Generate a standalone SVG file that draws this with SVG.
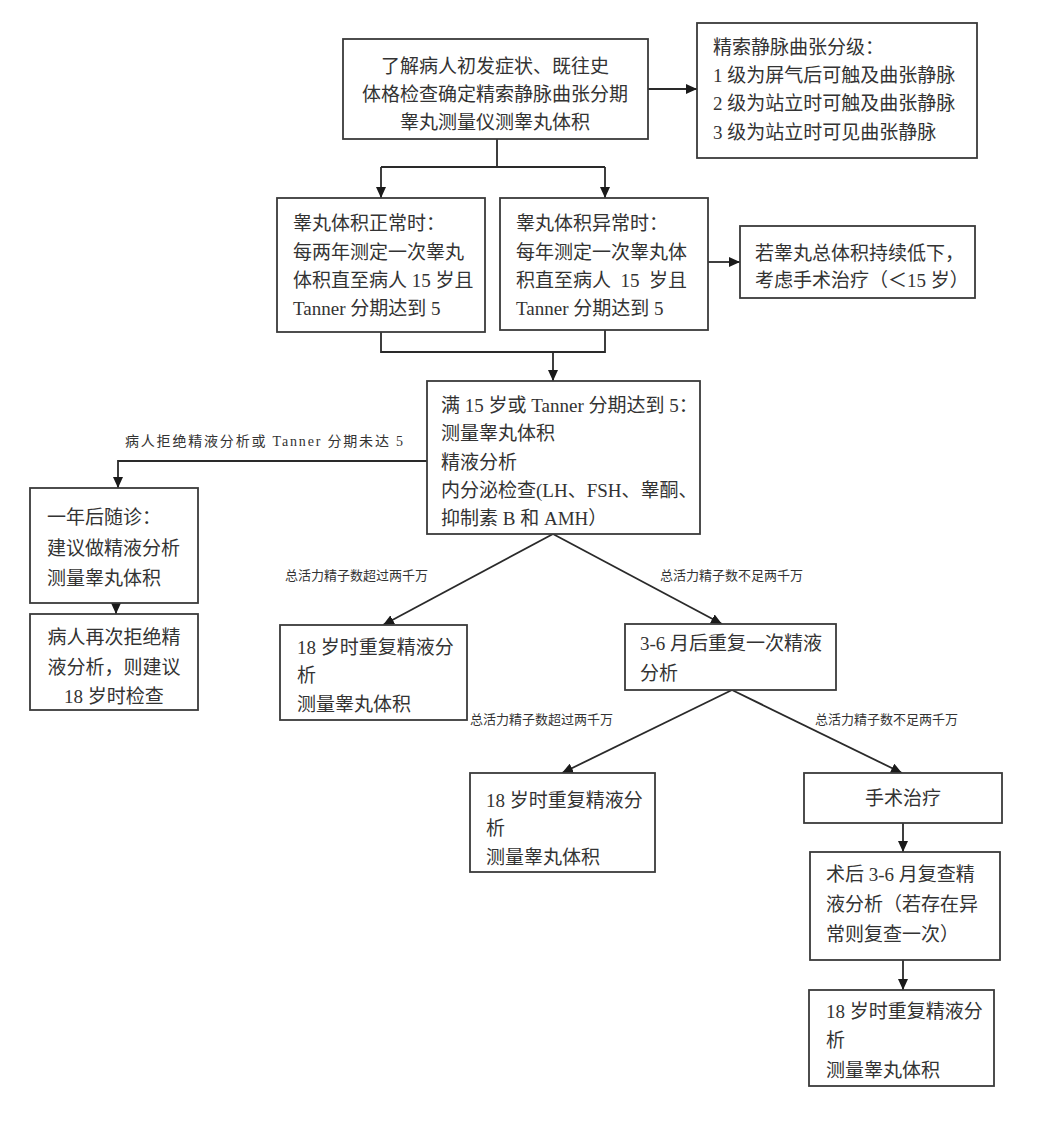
<svg xmlns="http://www.w3.org/2000/svg" width="1057" height="1125" viewBox="0 0 1057 1125">
<style>
.box{fill:#fff;stroke:#3a3a3a;stroke-width:1.8}
.t{font-family:"Liberation Serif","Noto Sans CJK SC",serif;font-size:19px;fill:#333}
.c{text-anchor:middle}
.lbl{font-family:"Liberation Serif","Noto Sans CJK SC",serif;font-size:13px;fill:#333}
.ln{fill:none;stroke:#2a2a2a;stroke-width:1.8}
</style>
<defs>
<marker id="ah" markerUnits="userSpaceOnUse" markerWidth="11" markerHeight="10" refX="11" refY="5" orient="auto">
<path d="M0,0 L11,5 L0,10 z" fill="#1a1a1a"/>
</marker>
</defs>
<rect width="1057" height="1125" fill="#fff"/>
<g id="connectors">
<path class="ln" d="M648,89 H697" marker-end="url(#ah)"/>
<path class="ln" d="M497,139 V167 M381,167 H605"/>
<path class="ln" d="M381,167 V198" marker-end="url(#ah)"/>
<path class="ln" d="M605,167 V198" marker-end="url(#ah)"/>
<path class="ln" d="M708,262 H740" marker-end="url(#ah)"/>
<path class="ln" d="M381,332 V352 H605 V330"/>
<path class="ln" d="M553,352 V381" marker-end="url(#ah)"/>
<path class="ln" d="M427,461 H118 V488" marker-end="url(#ah)"/>
<path class="ln" d="M116,603 V614" marker-end="url(#ah)"/>
<path class="ln" d="M553,534 L383,625" marker-end="url(#ah)"/>
<path class="ln" d="M553,534 L722,624" marker-end="url(#ah)"/>
<path class="ln" d="M732,690 L562,773" marker-end="url(#ah)"/>
<path class="ln" d="M732,690 L902,773" marker-end="url(#ah)"/>
<path class="ln" d="M903,823 V852" marker-end="url(#ah)"/>
<path class="ln" d="M903,960 V990" marker-end="url(#ah)"/>
<text class="lbl" x="125" y="446" textLength="278" lengthAdjust="spacing" style="font-size:14px">病人拒绝精液分析或 Tanner 分期未达 5</text>
<text class="lbl" x="285" y="580">总活力精子数超过两千万</text>
<text class="lbl" x="660" y="580">总活力精子数不足两千万</text>
<text class="lbl" x="470" y="724">总活力精子数超过两千万</text>
<text class="lbl" x="815" y="724">总活力精子数不足两千万</text>
</g>
<g id="n1">
<rect class="box" x="343" y="39" width="305" height="100"/>
<text class="t c" x="495" y="73">了解病人初发症状、既往史</text>
<text class="t c" x="495" y="101">体格检查确定精索静脉曲张分期</text>
<text class="t c" x="495" y="129">睾丸测量仪测睾丸体积</text>
</g>
<g id="n2">
<rect class="box" x="697" y="23" width="280" height="135"/>
<text class="t" x="713" y="54">精索静脉曲张分级：</text>
<text class="t" x="713" y="82">1 级为屏气后可触及曲张静脉</text>
<text class="t" x="713" y="110">2 级为站立时可触及曲张静脉</text>
<text class="t" x="713" y="139">3 级为站立时可见曲张静脉</text>
</g>
<g id="n3">
<rect class="box" x="277" y="198" width="208" height="134"/>
<text class="t" x="293" y="230">睾丸体积正常时：</text>
<text class="t" x="293" y="259">每两年测定一次睾丸</text>
<text class="t" x="293" y="287">体积直至病人 15 岁且</text>
<text class="t" x="293" y="315">Tanner 分期达到 5</text>
</g>
<g id="n4">
<rect class="box" x="500" y="198" width="208" height="132"/>
<text class="t" x="516" y="230">睾丸体积异常时：</text>
<text class="t" x="516" y="259">每年测定一次睾丸体</text>
<text class="t" x="516" y="287" xml:space="preserve">积直至病人  15  岁且</text>
<text class="t" x="516" y="315">Tanner 分期达到 5</text>
</g>
<g id="n5">
<rect class="box" x="740" y="226" width="235" height="72"/>
<text class="t" x="755" y="260">若睾丸总体积持续低下，</text>
<text class="t" x="755" y="287">考虑手术治疗（＜15 岁）</text>
</g>
<g id="n6">
<rect class="box" x="427" y="381" width="273" height="153"/>
<text class="t" x="441" y="412">满 15 岁或 Tanner 分期达到 5：</text>
<text class="t" x="441" y="440">测量睾丸体积</text>
<text class="t" x="441" y="469">精液分析</text>
<text class="t" x="441" y="497">内分泌检查(LH、FSH、睾酮、</text>
<text class="t" x="441" y="525">抑制素 B 和 AMH）</text>
</g>
<g id="n7">
<rect class="box" x="30" y="488" width="168" height="115"/>
<text class="t" x="47" y="524">一年后随诊：</text>
<text class="t" x="47" y="555">建议做精液分析</text>
<text class="t" x="47" y="585">测量睾丸体积</text>
</g>
<g id="n8">
<rect class="box" x="30" y="614" width="168" height="96"/>
<text class="t c" x="114" y="644">病人再次拒绝精</text>
<text class="t c" x="114" y="674">液分析，则建议</text>
<text class="t c" x="114" y="703">18 岁时检查</text>
</g>
<g id="n9">
<rect class="box" x="280" y="625" width="187" height="95"/>
<text class="t" x="297" y="654">18 岁时重复精液分</text>
<text class="t" x="297" y="682">析</text>
<text class="t" x="297" y="711">测量睾丸体积</text>
</g>
<g id="n10">
<rect class="box" x="625" y="624" width="211" height="66"/>
<text class="t" x="640" y="650">3-6 月后重复一次精液</text>
<text class="t" x="640" y="680">分析</text>
</g>
<g id="n11">
<rect class="box" x="470" y="773" width="185" height="99"/>
<text class="t" x="486" y="807">18 岁时重复精液分</text>
<text class="t" x="486" y="835">析</text>
<text class="t" x="486" y="864">测量睾丸体积</text>
</g>
<g id="n12">
<rect class="box" x="804" y="773" width="198" height="50"/>
<text class="t c" x="903" y="805">手术治疗</text>
</g>
<g id="n13">
<rect class="box" x="810" y="852" width="190" height="108"/>
<text class="t" x="826" y="881">术后 3-6 月复查精</text>
<text class="t" x="826" y="911">液分析（若存在异</text>
<text class="t" x="826" y="941">常则复查一次）</text>
</g>
<g id="n14">
<rect class="box" x="809" y="990" width="185" height="96"/>
<text class="t" x="826" y="1018">18 岁时重复精液分</text>
<text class="t" x="826" y="1047">析</text>
<text class="t" x="826" y="1077">测量睾丸体积</text>
</g>
</svg>
